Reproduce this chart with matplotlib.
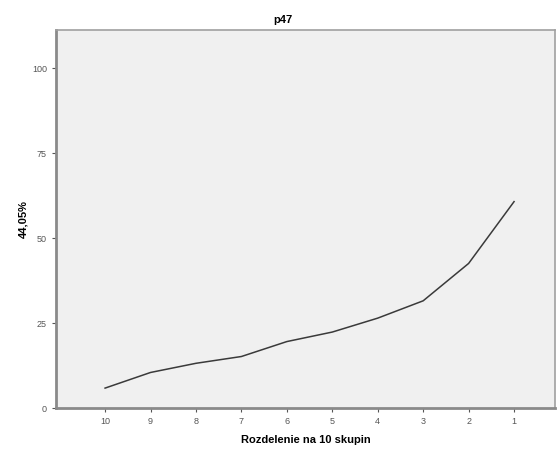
import matplotlib
matplotlib.use('Agg')
import matplotlib.pyplot as plt

# Data
groups = ['10', '9', '8', '7', '6', '5', '4', '3', '2', '1']
values = [5.9, 10.5, 13.2, 15.2, 19.6, 22.4, 26.5, 31.6, 42.6, 60.8]
yticks = [0, 25, 50, 75, 100]

plt.rcParams['font.family'] = ['Liberation Sans', 'DejaVu Sans']

fig = plt.figure(figsize=(5.6, 4.49), dpi=100)
ax = fig.add_axes([0.1, 0.091, 0.891, 0.842])
ax.set_facecolor('#f0f0f0')

pos = list(range(len(groups)))
ax.plot(pos, values, color='#3a3a3a', linewidth=1.1)

ax.set_xlim(-1.08, 9.9)
ax.set_ylim(0, 111.3)
ax.set_xticks(pos)
ax.set_xticklabels(groups)
ax.set_yticks(yticks)

for side in ['left', 'bottom']:
    ax.spines[side].set_color('#8a8a8a')
    ax.spines[side].set_linewidth(2)
for side in ['top', 'right']:
    ax.spines[side].set_color('#a0a0a0')
    ax.spines[side].set_linewidth(1.2)

ax.tick_params(axis='both', colors='#555555', labelsize=6.5, length=3, width=0.8, direction='out')

ax.set_xlabel('Rozdelenie na 10 skupin', fontsize=8, fontweight='bold', labelpad=6)
ax.set_ylabel('44,05%', fontsize=8, fontweight='bold')
ax.yaxis.set_label_coords(-0.056, 0.5)
fig.text(283 / 560, 1 - 20 / 449, 'p47', ha='center', va='center', fontsize=8, fontweight='bold')

fig.savefig('out.png', dpi=100, facecolor='white')
